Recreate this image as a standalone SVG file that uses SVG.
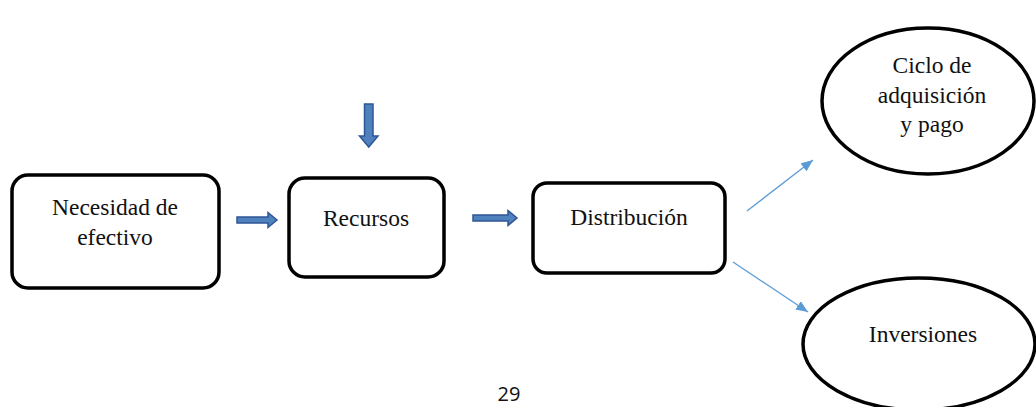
<svg xmlns="http://www.w3.org/2000/svg" width="1036" height="407" viewBox="0 0 1036 407">
<style>
.box{fill:#fff;stroke:#000;stroke-width:3.5}
.ell{fill:#fff;stroke:#000;stroke-width:3.5}
.t{font-family:"Liberation Serif","Times New Roman",serif;font-size:23.5px;fill:#111;text-anchor:middle}
.blk{fill:#4F81BD;stroke:#2F5597;stroke-width:1.5;stroke-linejoin:miter}
.thin{stroke:#5B9BD5;stroke-width:1.3;fill:none}
.pg{font-family:"Open Sans","Liberation Sans",sans-serif;font-size:20px;fill:#111;text-anchor:middle}
</style>
<defs>
<marker id="ah" viewBox="0 0 12 10" refX="12" refY="5" markerWidth="12" markerHeight="10" markerUnits="userSpaceOnUse" orient="auto">
<path d="M0,0 L12,5 L0,10 Z" fill="#5B9BD5"/>
</marker>
</defs>
<rect width="1036" height="407" fill="#fff"/>
<g id="node-necesidad">
<rect class="box" x="12" y="175" width="207" height="113" rx="16"/>
<text class="t" x="115" y="215">Necesidad de</text>
<text class="t" x="115" y="245">efectivo</text>
</g>
<g id="node-recursos">
<rect class="box" x="289" y="178" width="155" height="99" rx="16"/>
<text class="t" x="366" y="226">Recursos</text>
</g>
<g id="node-distribucion">
<rect class="box" x="533" y="183" width="192" height="90" rx="14"/>
<text class="t" x="629" y="225">Distribución</text>
</g>
<g id="node-ciclo">
<ellipse class="ell" cx="928" cy="101" rx="106" ry="73"/>
<text class="t" x="932" y="73">Ciclo de</text>
<text class="t" x="932" y="103">adquisición</text>
<text class="t" x="932" y="132">y pago</text>
</g>
<g id="node-inversiones">
<ellipse class="ell" cx="919" cy="344" rx="116" ry="66"/>
<text class="t" x="923" y="342">Inversiones</text>
</g>
<g id="connectors">
<path class="blk" d="M237,217 H268 V212.5 L277,220 L268,227.5 V223 H237 Z"/>
<path class="blk" d="M473,215 H508 V210.5 L517,218 L508,225.5 V221 H473 Z"/>
<path class="blk" d="M364.5,104 H373 V136 H378 L368.75,147 L359.5,136 H364.5 Z"/>
<line class="thin" x1="747" y1="211" x2="813" y2="160" marker-end="url(#ah)"/>
<line class="thin" x1="733" y1="262" x2="808" y2="312" marker-end="url(#ah)"/>
</g>
<text class="pg" x="509" y="401">29</text>
</svg>
